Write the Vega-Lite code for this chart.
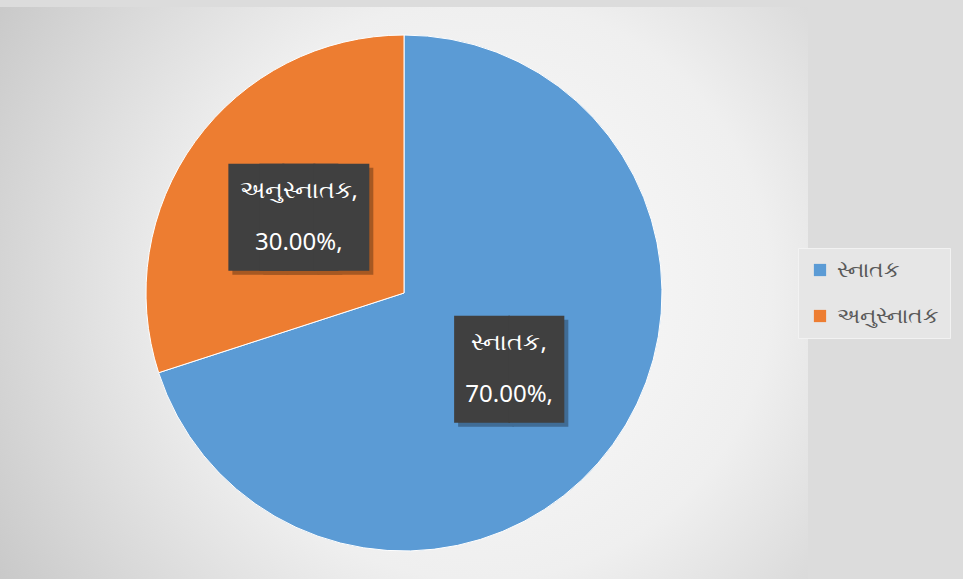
{
  "$schema": "https://vega.github.io/schema/vega-lite/v6.json",
  "width": 808,
  "height": 572,
  "padding": {"top": 7, "left": 0, "right": 18, "bottom": 0},
  "background": "#dcdcdc",
  "config": {"view": {"stroke": null}},
  "data": {
    "values": [
      {"category": "સ્નાતક", "value": 0.7},
      {"category": "અનુસ્નાતક", "value": 0.3}
    ]
  },
  "transform": [
    {"calculate": "[datum.category + ',', format(datum.value, '.2%') + ',']", "as": "label"}
  ],
  "layer": [
    {
      "data": {"values": [{}]},
      "mark": {
        "type": "rect",
        "fill": {
          "gradient": "radial",
          "x1": 0.595, "y1": 0.495, "r1": 0,
          "x2": 0.595, "y2": 0.495, "r2": 0.72,
          "stops": [
            {"offset": 0, "color": "#fbfbfb"},
            {"offset": 0.5, "color": "#efefef"},
            {"offset": 1, "color": "#c6c6c6"}
          ]
        }
      },
      "encoding": {}
    },
    {
      "mark": {"type": "arc", "outerRadius": 258, "stroke": "#ffffff", "strokeWidth": 1},
      "encoding": {
        "theta": {"field": "value", "type": "quantitative", "stack": true},
        "order": {"field": "value", "sort": "descending"},
        "color": {
          "field": "category",
          "type": "nominal",
          "scale": {"domain": ["સ્નાતક", "અનુસ્નાતક"], "range": ["#5B9BD5", "#ED7D31"]},
          "legend": {
            "title": null,
            "orient": "none",
            "legendX": 798,
            "legendY": 241,
            "symbolType": "square",
            "symbolSize": 150,
            "symbolStrokeWidth": 0,
            "labelFontSize": 22,
            "labelColor": "#595959",
            "labelFont": "Noto Sans",
            "labelOffset": 6,
            "rowPadding": 24,
            "padding": 11,
            "fillColor": "#e6e6e6",
            "strokeColor": "#f2f2f2"
          }
        }
      }
    },
    {
      "mark": {"type": "text", "radius": 130, "dx": 4, "dy": 8, "font": "DejaVu Sans Mono", "fontSize": 90, "baseline": "middle", "align": "center"},
      "encoding": {
        "theta": {"field": "value", "type": "quantitative", "stack": true},
        "order": {"field": "value", "sort": "descending"},
        "text": {"condition": {"test": "datum.category == 'સ્નાતક'", "value": "██"}, "value": ""},
        "color": {"value": "#406c95"}
      }
    },
    {
      "mark": {"type": "text", "radius": 130, "dx": -11.5, "dy": 8, "font": "DejaVu Sans Mono", "fontSize": 90, "baseline": "middle", "align": "center"},
      "encoding": {
        "theta": {"field": "value", "type": "quantitative", "stack": true},
        "order": {"field": "value", "sort": "descending"},
        "text": {"condition": {"test": "datum.category == 'અનુસ્નાતક'", "value": "██"}, "value": ""},
        "color": {"value": "#a65822"}
      }
    },
    {
      "mark": {"type": "text", "radius": 130, "dx": 19.5, "dy": 8, "font": "DejaVu Sans Mono", "fontSize": 90, "baseline": "middle", "align": "center"},
      "encoding": {
        "theta": {"field": "value", "type": "quantitative", "stack": true},
        "order": {"field": "value", "sort": "descending"},
        "text": {"condition": {"test": "datum.category == 'અનુસ્નાતક'", "value": "██"}, "value": ""},
        "color": {"value": "#a65822"}
      }
    },
    {
      "mark": {"type": "text", "radius": 130, "dy": 4, "font": "DejaVu Sans Mono", "fontSize": 90, "baseline": "middle", "align": "center"},
      "encoding": {
        "theta": {"field": "value", "type": "quantitative", "stack": true},
        "order": {"field": "value", "sort": "descending"},
        "text": {"condition": {"test": "datum.category == 'સ્નાતક'", "value": "██"}, "value": ""},
        "color": {"value": "#404040"}
      }
    },
    {
      "mark": {"type": "text", "radius": 130, "dx": -15.5, "dy": 4, "font": "DejaVu Sans Mono", "fontSize": 90, "baseline": "middle", "align": "center"},
      "encoding": {
        "theta": {"field": "value", "type": "quantitative", "stack": true},
        "order": {"field": "value", "sort": "descending"},
        "text": {"condition": {"test": "datum.category == 'અનુસ્નાતક'", "value": "██"}, "value": ""},
        "color": {"value": "#404040"}
      }
    },
    {
      "mark": {"type": "text", "radius": 130, "dx": 15.5, "dy": 4, "font": "DejaVu Sans Mono", "fontSize": 90, "baseline": "middle", "align": "center"},
      "encoding": {
        "theta": {"field": "value", "type": "quantitative", "stack": true},
        "order": {"field": "value", "sort": "descending"},
        "text": {"condition": {"test": "datum.category == 'અનુસ્નાતક'", "value": "██"}, "value": ""},
        "color": {"value": "#404040"}
      }
    },
    {
      "mark": {"type": "text", "radius": 130, "dy": -26, "font": "Noto Sans", "fontSize": 24, "lineHeight": 52, "baseline": "middle", "align": "center"},
      "encoding": {
        "theta": {"field": "value", "type": "quantitative", "stack": true},
        "order": {"field": "value", "sort": "descending"},
        "text": {"field": "label"},
        "color": {"value": "#ffffff"}
      }
    }
  ]
}
